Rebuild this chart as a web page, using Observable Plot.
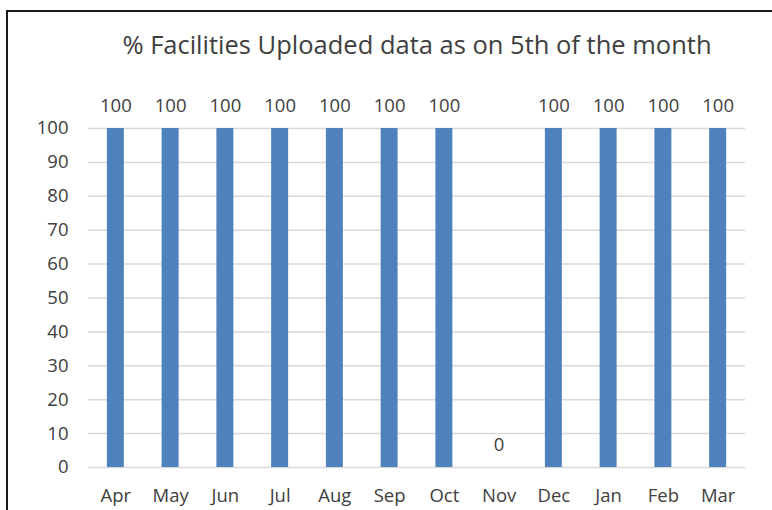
<!DOCTYPE html>
<html>
<head>
<meta charset="utf-8">
<script src="https://cdn.jsdelivr.net/npm/d3@7"></script>
<script src="https://cdn.jsdelivr.net/npm/@observablehq/plot@0.6"></script>
<style>
  html, body { margin: 0; padding: 0; background: #fff; }
  #wrap { position: relative; width: 772px; height: 510px; overflow: hidden; font-family: "Open Sans", sans-serif; }
  #frame { position: absolute; left: 6px; top: 10px; width: 800px; height: 600px; border-top: 2px solid #1a1a1a; border-left: 2px solid #1a1a1a; box-sizing: border-box; }
  #title { position: absolute; left: 0; width: 834px; top: 28px; text-align: center; font-size: 25.5px; color: #404040; line-height: 32px; }
  #chart { position: absolute; left: 0; top: 0; }
</style>
</head>
<body>
<div id="wrap">
  <div id="frame"></div>
  <div id="chart"></div>
  <div id="title">% Facilities Uploaded data as on 5th of the month</div>
</div>
<script>
const months = ["Apr","May","Jun","Jul","Aug","Sep","Oct","Nov","Dec","Jan","Feb","Mar"];
const values = [100,100,100,100,100,100,100,0,100,100,100,100];
const yTicks = [0,10,20,30,40,50,60,70,80,90,100];

const data = months.map((m, i) => ({month: m, value: values[i]}));

const chart = Plot.plot({
  width: 772,
  height: 510,
  marginLeft: 88,
  marginRight: 27,
  marginTop: 128,
  marginBottom: 43,
  style: {fontFamily: "'Open Sans', sans-serif", fontSize: "18.5px", color: "#404040", background: "transparent"},
  x: {domain: months, paddingInner: 0.69, paddingOuter: 0.345, round: false, label: null},
  y: {domain: [0, 100], label: null},
  marks: [
    Plot.gridY(yTicks, {stroke: "#d9d9d9", strokeOpacity: 1, strokeWidth: 1.5}),
    Plot.barY(data, {x: "month", y: "value", fill: "#4F81BD"}),
    Plot.text(data, {x: "month", y: "value", text: d => String(d.value), dy: -22, fill: "#404040", fontSize: 18.5}),
    Plot.axisY(yTicks, {tickSize: 0, tickPadding: 20, label: null, fill: "#404040", fontSize: 18.5}),
    Plot.axisX({tickSize: 0, tickPadding: 21, label: null, fill: "#404040", fontSize: 18.5})
  ]
});
document.getElementById("chart").appendChild(chart);
</script>
</body>
</html>
